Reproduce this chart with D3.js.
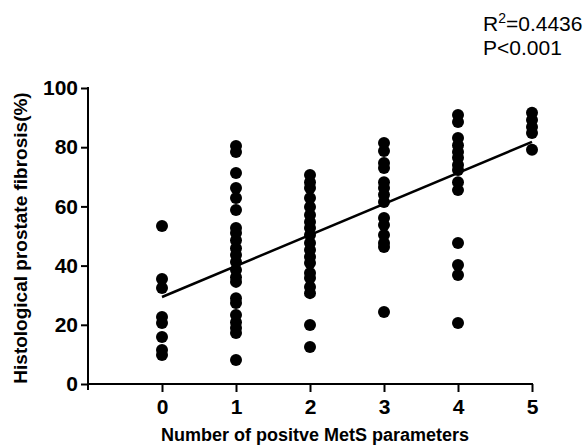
<!DOCTYPE html>
<meta charset="utf-8">
<style>
    body { margin: 0; background: #fff; }
    svg { font-family: "Liberation Sans", Arial, sans-serif; }
    .axis path, .axis line { stroke: #000; stroke-width: 2px; }
    .axis text { font-weight: bold; fill: #000; font-family: "Liberation Sans", Arial, sans-serif; }
</style>
<body>
<script src="https://d3js.org/d3.v7.min.js"></script>
<script>

    // points, one array per category
    var categories = [0, 1, 2, 3, 4, 5];
    var col0 = [53.4, 35.5, 32.4, 22.6, 20.6, 15.9, 11.5, 9.8];
    var col1 = [80.4, 78.4, 71.3, 66.2, 62.8, 58.8, 52.7, 51, 48.6, 45.9, 43.6, 41.2,
                38.5, 36.1, 34.5, 29, 27.4, 23.3, 20.9, 18.9, 17.2, 8.1];
    var col2 = [70.6, 68.2, 66.2, 62.8, 59.8, 57.1, 54.7, 52.7, 50.3, 47.6, 45.3, 42.9,
                40.9, 37.5, 35.8, 32.8, 30.7, 19.9, 12.5];
    var col3 = [81.4, 78.7, 74.7, 73, 68.2, 66.2, 63.9, 61.5, 56.1, 53.7, 50.3, 47.6, 46.3, 24.3];
    var col4 = [90.9, 88.5, 83.1, 80.7, 78.4, 76.4, 74, 72.3, 68.2, 65.5, 47.6, 40.2, 36.8, 20.6];
    var col5 = [91.6, 89.2, 86.8, 84.8, 79.1];
    var yTicks = [0, 20, 40, 60, 80, 100];

    // fitted line ends
    var fit = [{ x: 0, y: 29.4 }, { x: 5, y: 81.8 }];

    var statLines = ["=0.4436", "P<0.001"];

    var width = 587, height = 446;

    var x = d3.scaleLinear().domain([-1, 5]).range([88, 532]);
    var y = d3.scaleLinear().domain([0, 100]).range([384, 88]);

    var svg = d3.select("body").append("svg")
        .attr("width", width)
        .attr("height", height);

    var data = [];
    [col0, col1, col2, col3, col4, col5].forEach(function (col, i) {
        col.forEach(function (v) { data.push({ x: categories[i], y: v }); });
    });

    // x axis
    var gx = svg.append("g")
        .attr("class", "axis")
        .attr("transform", "translate(0," + y(0) + ")")
        .call(d3.axisBottom(x).tickValues(categories).tickFormat(d3.format("d"))
            .tickSize(8).tickPadding(7).tickSizeOuter(0));
    gx.attr("font-size", null).attr("font-family", null);
    gx.select(".domain").attr("d", "M" + x(-1) + ",0H" + (x(5) + 1));
    gx.selectAll("text").style("font-size", "21px");

    // y axis
    var gy = svg.append("g")
        .attr("class", "axis")
        .attr("transform", "translate(" + x(-1) + ",0)")
        .call(d3.axisLeft(y).tickValues(yTicks).tickFormat(d3.format("d"))
            .tickSize(7).tickPadding(3).tickSizeOuter(0));
    gy.attr("font-size", null).attr("font-family", null);
    gy.select(".domain").attr("d", "M0," + (y(100) - 1) + "V" + (y(0) + 6));
    gy.selectAll("text").style("font-size", "21px");

    // dots
    svg.append("g").selectAll("circle")
        .data(data)
        .enter().append("circle")
        .attr("cx", function (d) { return x(d.x); })
        .attr("cy", function (d) { return y(d.y); })
        .attr("r", 6)
        .attr("fill", "#000");

    // regression line
    svg.append("path")
        .datum(fit)
        .attr("fill", "none")
        .attr("stroke", "#000")
        .attr("stroke-width", 2.5)
        .attr("d", d3.line().x(function (d) { return x(d.x); }).y(function (d) { return y(d.y); }));

    // stats text
    var t1 = svg.append("text")
        .attr("x", 483).attr("y", 31)
        .style("font-size", "21px");
    t1.append("tspan").text("R");
    t1.append("tspan").attr("dy", -8).style("font-size", "14px").text("2");
    t1.append("tspan").attr("dy", 8).text(statLines[0]);

    svg.append("text")
        .attr("x", 483).attr("y", 55)
        .style("font-size", "21px")
        .text(statLines[1]);

    // axis titles
    svg.append("text")
        .attr("transform", "translate(27," + 238 + ") rotate(-90)")
        .attr("text-anchor", "middle")
        .style("font-size", "19px")
        .style("font-weight", "bold")
        .text("Histological prostate fibrosis(%)");

    svg.append("text")
        .attr("x", 315)
        .attr("y", 441)
        .attr("text-anchor", "middle")
        .style("font-size", "18px")
        .style("font-weight", "bold")
        .text("Number of positve MetS parameters");

</script>
</body>
